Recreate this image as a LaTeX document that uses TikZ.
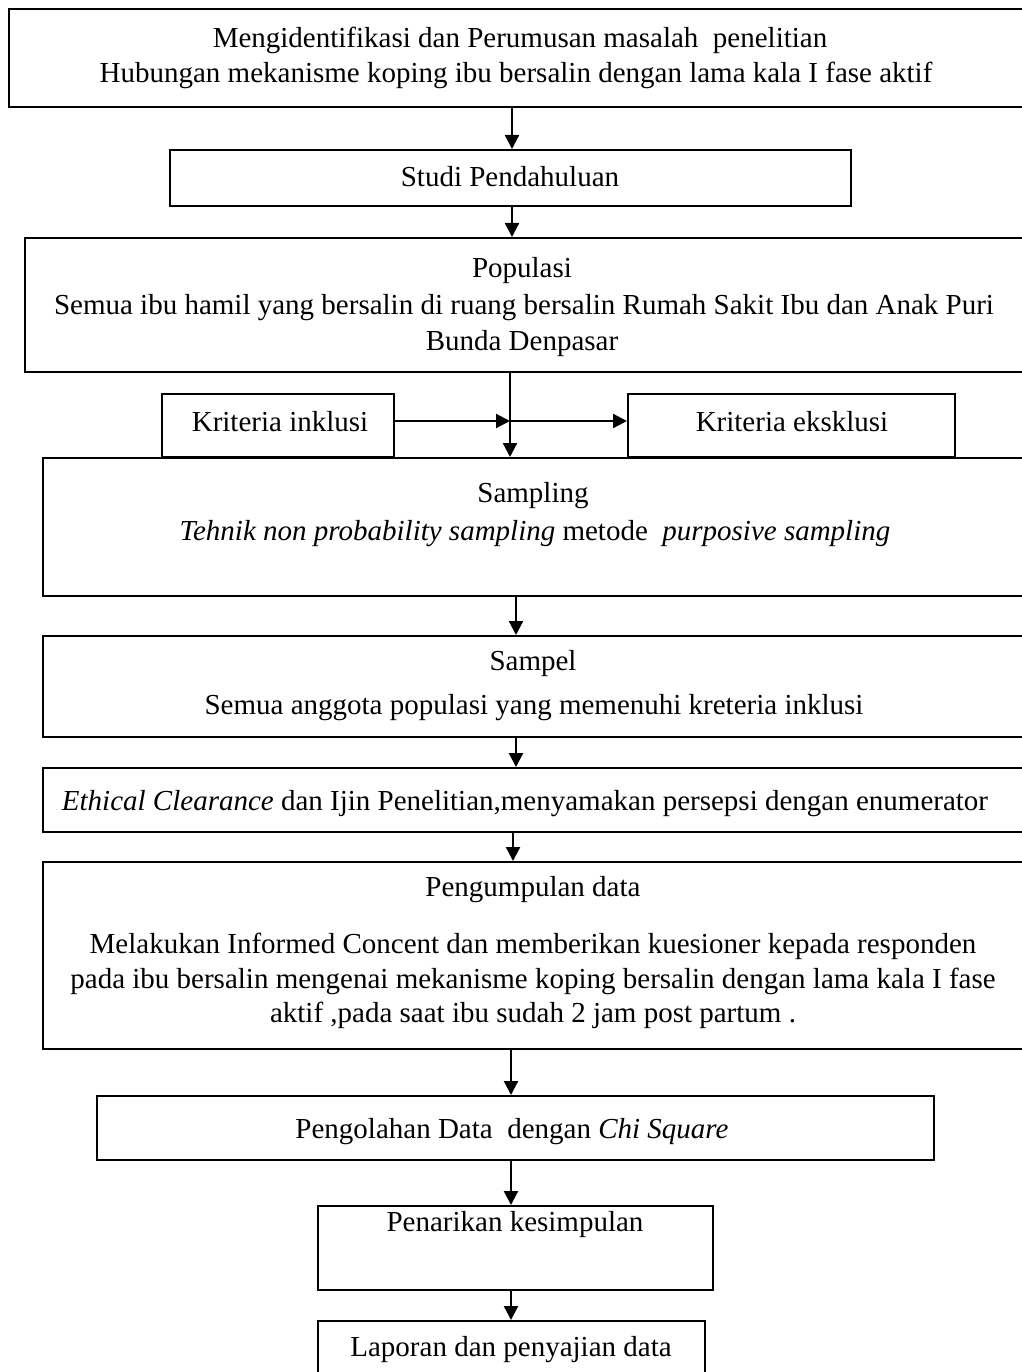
\documentclass[tikz,border=0pt]{standalone}
\usepackage{fontspec}
\setmainfont{Liberation Serif}
\usetikzlibrary{arrows.meta}
\begin{document}
\begin{tikzpicture}[x=1pt,y=-1pt,
  box/.style={draw,line width=2pt,inner sep=0pt,rectangle},
  txt/.style={anchor=base,inner sep=0pt,font=\fontsize{29}{36}\selectfont},
  arr/.style={line width=2.2pt,-{Triangle[length=14pt,width=14pt]}}]
\useasboundingbox (0,0) rectangle (1021,1372);
% boxes
\node[box,minimum width=1016pt,minimum height=98pt] (b1) at (517,58) {};
\node[box,minimum width=681pt,minimum height=56pt] (b2) at (510.5,178) {};
\node[box,minimum width=1000pt,minimum height=134pt] (b3) at (525,305) {};
\node[box,minimum width=232pt,minimum height=63pt] (bin) at (278,425.5) {};
\node[box,minimum width=327pt,minimum height=63pt] (bex) at (791.5,425.5) {};
\node[box,minimum width=982pt,minimum height=138pt] (b4) at (534,527) {};
\node[box,minimum width=982pt,minimum height=101pt] (b5) at (534,686.5) {};
\node[box,minimum width=982pt,minimum height=64pt] (b6) at (534,800) {};
\node[box,minimum width=982pt,minimum height=187pt] (b7) at (534,955.5) {};
\node[box,minimum width=837pt,minimum height=64pt] (b8) at (515.5,1128) {};
\node[box,minimum width=395pt,minimum height=84pt] (b9) at (515.5,1248) {};
\node[box,minimum width=387pt,minimum height=59pt] (b10) at (511.5,1350.5) {};
% texts
\node[txt] (t1a) at (520,48) {Mengidentifikasi dan Perumusan masalah\ \ penelitian};
\node[txt] (t1b) at (516,83) {Hubungan mekanisme koping ibu bersalin dengan lama kala I fase aktif};
\node[txt] (t2) at (510,187) {Studi Pendahuluan};
\node[txt] (t3a) at (522,277) {Populasi};
\node[txt] (t3b) at (524,314) {Semua ibu hamil yang bersalin di ruang bersalin Rumah Sakit Ibu dan Anak Puri};
\node[txt] (t3c) at (522,350) {Bunda Denpasar};
\node[txt] (tin) at (280,431) {Kriteria inklusi};
\node[txt] (tex) at (792,431) {Kriteria eksklusi};
\node[txt] (t4a) at (533,502) {Sampling};
\node[txt] (t4b) at (535,540) {\textit{Tehnik non probability sampling} metode\ \ \textit{purposive sampling}};
\node[txt] (t5a) at (533,670) {Sampel};
\node[txt] (t5b) at (534,714) {Semua anggota populasi yang memenuhi kreteria inklusi};
\node[txt] (t6) at (525,810) {\textit{Ethical Clearance} dan Ijin Penelitian,menyamakan persepsi dengan enumerator};
\node[txt] (t7a) at (533,896) {Pengumpulan data};
\node[txt] (t7b) at (533,953) {Melakukan Informed Concent dan memberikan kuesioner kepada responden};
\node[txt] (t7c) at (533,988) {pada ibu bersalin mengenai mekanisme koping bersalin dengan lama kala I fase};
\node[txt] (t7d) at (533,1022) {aktif ,pada saat ibu sudah 2 jam post partum .};
\node[txt] (t8) at (512,1138) {Pengolahan Data\ \ dengan \textit{Chi Square}};
\node[txt] (t9) at (515,1231) {Penarikan kesimpulan};
\node[txt] (t10) at (511,1356) {Laporan dan penyajian data};
% connectors
\coordinate (j) at (510,421);
\draw[arr] ([xshift=1.5pt]b2.north |- b1.south) -- ([xshift=1.5pt]b2.north);
\draw[arr] ([xshift=1.5pt]b2.south) -- ([xshift=1.5pt]b2.south |- b3.north);
\draw[arr] (b3.south -| j) -- (b4.north -| j);
\draw[arr] (bin.east |- j) -- (j);
\draw[arr] (j) -- (bex.west |- j);
\draw[arr] ([xshift=-18pt]b4.south) -- ([xshift=-18pt]b5.north);
\draw[arr] ([xshift=-18pt]b5.south) -- ([xshift=-18pt]b6.north);
\draw[arr] ([xshift=-21pt]b6.south) -- ([xshift=-21pt]b7.north);
\draw[arr] ([xshift=-4.5pt]b8.north |- b7.south) -- ([xshift=-4.5pt]b8.north);
\draw[arr] ([xshift=-4.5pt]b8.south) -- ([xshift=-4.5pt]b9.north);
\draw[arr] ([xshift=-4.5pt]b9.south) -- ([xshift=-0.5pt]b10.north);
\end{tikzpicture}
\end{document}
